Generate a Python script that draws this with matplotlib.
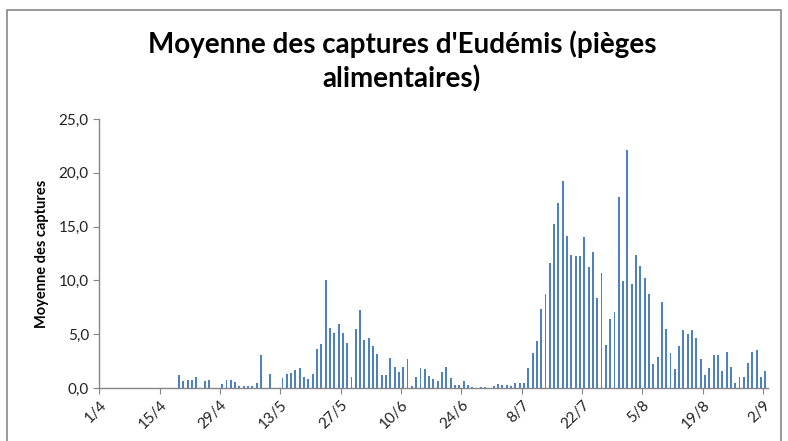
import matplotlib
matplotlib.use("Agg")
import matplotlib.pyplot as plt
import numpy as np
from matplotlib.patches import Rectangle
from matplotlib.ticker import FuncFormatter

# Daily mean captures from 1/4 to 2/9 (155 days)
values = [
    0, 0, 0, 0, 0, 0, 0, 0, 0, 0,
    0, 0, 0, 0, 0, 0, 0, 0, 1.2, 0.65,
    0.74, 0.74, 1.0, 0, 0.68, 0.74, 0, 0, 0.37, 0.74,
    0.74, 0.53, 0.19, 0.19, 0.19, 0.19, 0.46, 3.03, 0, 1.3,
    0, 0, 0.9, 1.3, 1.36, 1.7, 1.83, 0.99, 0.84, 1.3,
    3.62, 4.09, 10.09, 5.57, 5.14, 5.94, 5.08, 4.15, 0.99, 5.51,
    7.24, 4.46, 4.67, 3.93, 3.19, 1.21, 1.21, 2.79, 1.95, 1.52,
    1.95, 2.66, 0.19, 0.99, 1.89, 1.73, 1.11, 0.84, 0.68, 1.46,
    1.95, 0.9, 0.31, 0.31, 0.62, 0.31, 0.06, 0, 0.06, 0.06,
    0, 0.22, 0.37, 0.31, 0.28, 0.15, 0.43, 0.43, 0.43, 1.83,
    3.25, 4.4, 7.31, 8.76, 11.67, 15.29, 17.18, 19.23, 14.15, 12.41,
    12.29, 12.29, 14.02, 11.24, 12.6, 8.36, 10.71, 3.99, 6.41, 7.03,
    17.8, 9.94, 22.17, 9.66, 12.35, 11.39, 10.25, 8.76, 2.26, 2.88,
    7.99, 5.45, 3.25, 1.76, 3.87, 5.39, 4.98, 5.39, 4.67, 2.66,
    1.21, 1.83, 3.03, 3.03, 1.61, 3.34, 1.98, 0.5, 0.99, 0.99,
    2.35, 3.34, 3.5, 0.99, 1.55,
]
tick_labels = ['1/4', '15/4', '29/4', '13/5', '27/5', '10/6', '24/6',
               '8/7', '22/7', '5/8', '19/8', '2/9']
tick_step = 14
title = "Moyenne des captures d'Eudémis (pièges\nalimentaires)"
ylabel = "Moyenne des captures"

plt.rcParams['font.family'] = ['Lato', 'DejaVu Sans']

fig = plt.figure(figsize=(7.88, 4.41), dpi=100)
ax = fig.add_axes([0.126, 0.120, 0.848, 0.610])

n = len(values)
days = np.arange(n)
ax.bar(days + 0.5, values, width=0.44, color='#4F81BD', linewidth=0)

ax.set_xlim(0, n)
ax.set_ylim(0, 25)
ax.set_yticks(np.arange(0, 25.1, 5))
ax.yaxis.set_major_formatter(FuncFormatter(lambda v, p: f"{v:.1f}".replace('.', ',')))
ax.set_xticks(np.arange(0, n, tick_step))
ax.set_xticklabels(tick_labels, rotation=45, ha='right', va='top',
                   rotation_mode='anchor')

for s in ['top', 'right']:
    ax.spines[s].set_visible(False)
for s in ['left', 'bottom']:
    ax.spines[s].set_color('#868686')
    ax.spines[s].set_linewidth(1.0)
ax.tick_params(axis='both', colors='#868686', labelcolor='#222222',
               labelsize=11, length=4, direction='out')
ax.tick_params(axis='x', pad=3)

ax.set_ylabel(ylabel, fontsize=10.5, fontweight='bold', color='black', labelpad=7)

fig.text(0.51, 0.860, title, ha='center', va='center', fontsize=20,
         fontweight='bold', color='black', linespacing=1.32)

# chart border
fig.add_artist(Rectangle((7 / 788, -0.05), (781 - 7) / 788, 1.05 - 10 / 441,
                         transform=fig.transFigure, fill=False,
                         edgecolor='#888888', linewidth=1.2))

fig.savefig('out.png', dpi=100)
